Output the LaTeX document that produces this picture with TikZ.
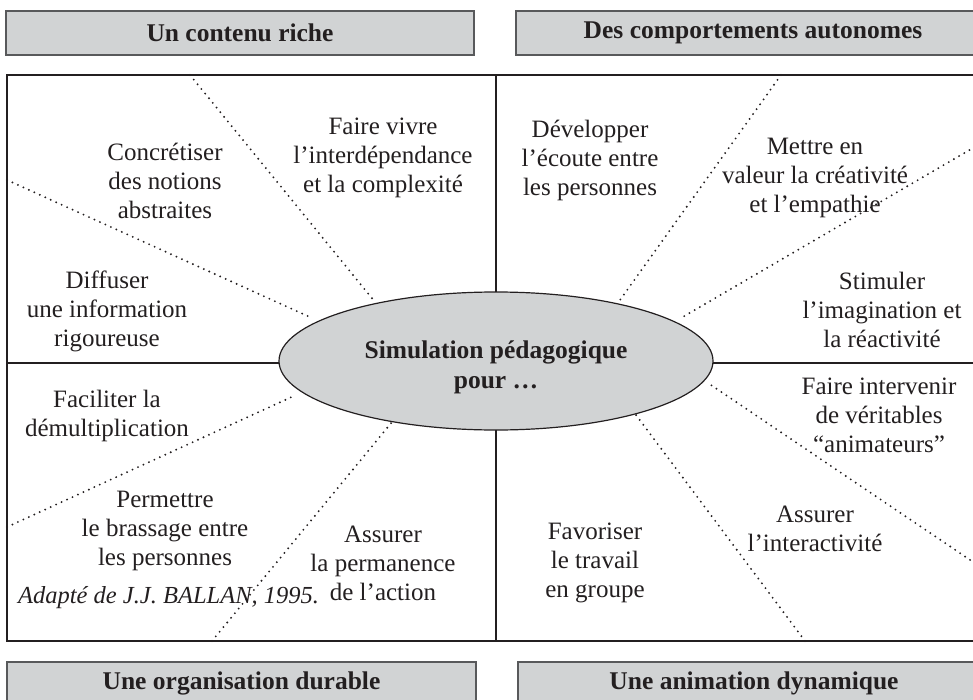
\documentclass[tikz,border=0pt]{standalone}
\usepackage{fontspec}
\setmainfont{Liberation Serif}
\usetikzlibrary{shapes.geometric}
\definecolor{boxgray}{HTML}{D1D3D4}
\definecolor{ink}{HTML}{231F20}
\definecolor{hdrline}{HTML}{58595B}
\begin{document}
\begin{tikzpicture}[x=1pt,y=-1pt,
  txt/.style={font=\fontsize{25}{29}\selectfont, align=center, inner sep=0pt, text=ink},
  hdr/.style={draw=hdrline, line width=1.3pt, fill=boxgray, font=\bfseries\fontsize{25.5}{29}\selectfont, text=ink, inner sep=0pt},
  frame/.style={draw=ink, line width=2.4pt},
  divline/.style={draw=ink, line width=2pt},
  dotline/.style={draw=ink, line width=2.1pt, line cap=round, dash pattern=on 0pt off 6pt}
]
\useasboundingbox (0,0) rectangle (973,700);
\clip (0,0) rectangle (973,700);

% headers
\node[hdr, minimum width=468pt, minimum height=44pt] (h1) at (240,33) {Un contenu riche};
\node[hdr, minimum width=474pt, minimum height=44pt] (h2) at (753,33) {Des comportements autonomes};
\node[hdr, minimum width=469pt, minimum height=42pt] (h3) at (241.5,683) {Une organisation durable};
\node[hdr, minimum width=472pt, minimum height=42pt] (h4) at (754,683) {Une animation dynamique};

% frame and dividers
\coordinate (tl) at (7,75);
\coordinate (br) at (985,641);
\coordinate (vt) at (496,75);
\coordinate (vb) at (496,641);
\coordinate (hl) at (7,363);
\coordinate (hr) at (985,363);
\draw[divline] (vt) -- (vb);
\draw[divline] (hl) -- (hr);
\draw[frame] (tl) rectangle (br);

% dotted rays
\coordinate (a1) at (190,75);  \coordinate (a2) at (375,302);
\coordinate (b1) at (7,180);   \coordinate (b2) at (312,318);
\coordinate (c1) at (781,75);  \coordinate (c2) at (620,300);
\coordinate (d1) at (985,141); \coordinate (d2) at (681,318);
\coordinate (e1) at (7,527);   \coordinate (e2) at (296,395);
\coordinate (f1) at (212,641); \coordinate (f2) at (392,422);
\coordinate (g1) at (985,570); \coordinate (g2) at (708,383);
\coordinate (k1) at (805,641); \coordinate (k2) at (636,415);
\foreach \p in {a,b,c,d,e,f,g,k} {\draw[dotline] (\p1) -- (\p2);}

% central ellipse
\node[ellipse, draw=ink, line width=1.2pt, fill=boxgray, minimum width=434pt, minimum height=138pt, inner sep=0pt] (ell) at (496,361) {};
\node[txt, font=\bfseries\fontsize{25.5}{30}\selectfont] (elltxt) at (496,367) {Simulation pédagogique\\pour …};

% texts
\node[txt] (conc) at (165,181) {Concrétiser\\des notions\\abstraites};
\node[txt] (faire) at (383,158) {Faire vivre\\l’interdépendance\\et la complexité};
\node[txt] (diff) at (107,311) {Diffuser\\une information\\rigoureuse};
\node[txt] (dev) at (590,160) {Développer\\l’écoute entre\\les personnes};
\node[txt] (mett) at (815,178) {Mettre en\\valeur la créativité\\et l’empathie};
\node[txt] (stim) at (882,310) {Stimuler\\l’imagination et\\la réactivité};
\node[txt] (facil) at (107,416) {Faciliter la\\démultiplication};
\node[txt] (perm) at (165,531) {Permettre\\le brassage entre\\les personnes};
\node[txt, font=\itshape\fontsize{24.5}{29}\selectfont, anchor=west] (adapt) at (18,598) {Adapté de J.J. BALLAN, 1995.};
\node[txt] (assu1) at (383,563) {Assurer\\la permanence\\de l’action};
\node[txt] (fav) at (595,563) {Favoriser\\le travail\\en groupe};
\node[txt] (assu2) at (815,529) {Assurer\\l’interactivité};
\node[txt] (fint) at (879,415) {Faire intervenir\\de véritables\\“animateurs”};
\end{tikzpicture}
\end{document}
